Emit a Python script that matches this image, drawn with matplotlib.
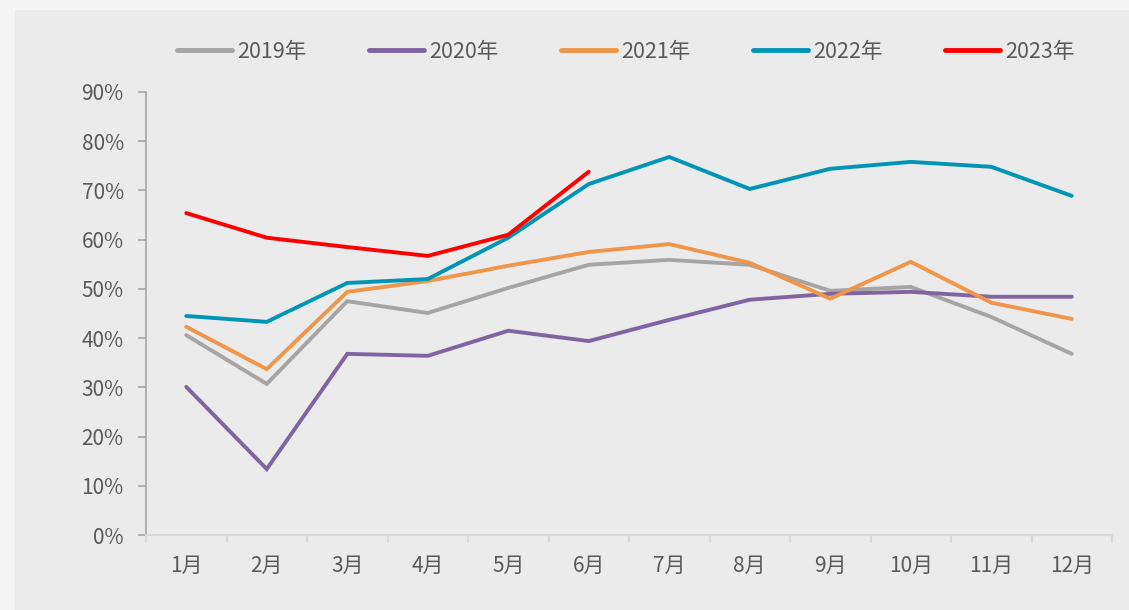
import numpy as np
import matplotlib.pyplot as plt
from matplotlib.patches import Rectangle

plt.rcParams['font.family'] = ['Noto Sans CJK SC', 'DejaVu Sans']

months = ['1月', '2月', '3月', '4月', '5月', '6月', '7月', '8月', '9月', '10月', '11月', '12月']
y2019 = [40.6, 30.7, 47.5, 45.1, 50.2, 54.9, 55.9, 54.9, 49.6, 50.4, 44.3, 36.8]
y2020 = [30.1, 13.4, 36.8, 36.4, 41.5, 39.4, 43.7, 47.8, 49.0, 49.4, 48.4, 48.4]
y2021 = [42.3, 33.7, 49.4, 51.6, 54.7, 57.5, 59.1, 55.3, 48.0, 55.5, 47.2, 43.9]
y2022 = [44.5, 43.3, 51.2, 52.0, 60.4, 71.3, 76.8, 70.3, 74.4, 75.8, 74.8, 68.9]
y2023 = [65.4, 60.4, 58.5, 56.7, 61.0, 73.8]

series = [('2019年', y2019, '#a5a5a5'),
          ('2020年', y2020, '#8064a2'),
          ('2021年', y2021, '#f0964a'),
          ('2022年', y2022, '#0095b6'),
          ('2023年', y2023, '#ff0000')]

txtCol = '#595959'

fig = plt.figure(figsize=(11.29, 6.10), dpi=100, facecolor='#f5f5f5')
fig.patches.append(Rectangle((15/1129, 0), 1, 1 - 10/610, transform=fig.transFigure,
                             facecolor='#ebebeb', edgecolor='none', zorder=-5))
ax = fig.add_axes([146/1129, 75/610, 966/1129, 443/610])
ax.set_facecolor('none')
ax.set_zorder(2)

x = np.arange(len(months))
for name, vals, col in series:
    ax.plot(x[:len(vals)], np.array(vals)/100, color=col, linewidth=2.8,
            solid_capstyle='round', solid_joinstyle='miter', label=name)

ax.set_xlim(-0.5, 11.5)
ax.set_ylim(0, 0.9)
ax.set_yticks(np.arange(0, 0.91, 0.1))
ax.set_yticklabels([f'{int(round(v*100))}%' for v in np.arange(0, 0.91, 0.1)])
ax.set_xticks(x)
ax.set_xticklabels(months)
ax.set_xticks(np.arange(-0.5, 12, 1), minor=True)
ax.tick_params(axis='x', which='major', length=0, pad=14, labelsize=15, labelcolor=txtCol)
ax.tick_params(axis='x', which='minor', length=6, width=1.5, color='#d9d9d9')
ax.tick_params(axis='y', length=6, width=1.2, color='#a6a6a6', labelsize=15, labelcolor=txtCol, pad=10)

for s in ['top', 'right']:
    ax.spines[s].set_visible(False)
ax.spines['left'].set_color('#a6a6a6')
ax.spines['left'].set_linewidth(1.2)
ax.spines['bottom'].set_color('#d9d9d9')
ax.spines['bottom'].set_linewidth(1.5)

leg = fig.legend(loc='center', bbox_to_anchor=(626/1129, 1 - 52/610), ncol=5, frameon=False,
                 fontsize=15.5, handlelength=2.55, handletextpad=0.25, columnspacing=2.9)
for t in leg.get_texts():
    t.set_color(txtCol)
for h in leg.legend_handles:
    h.set_linewidth(3.5)

plt.savefig('out.png', dpi=100, facecolor=fig.get_facecolor())
